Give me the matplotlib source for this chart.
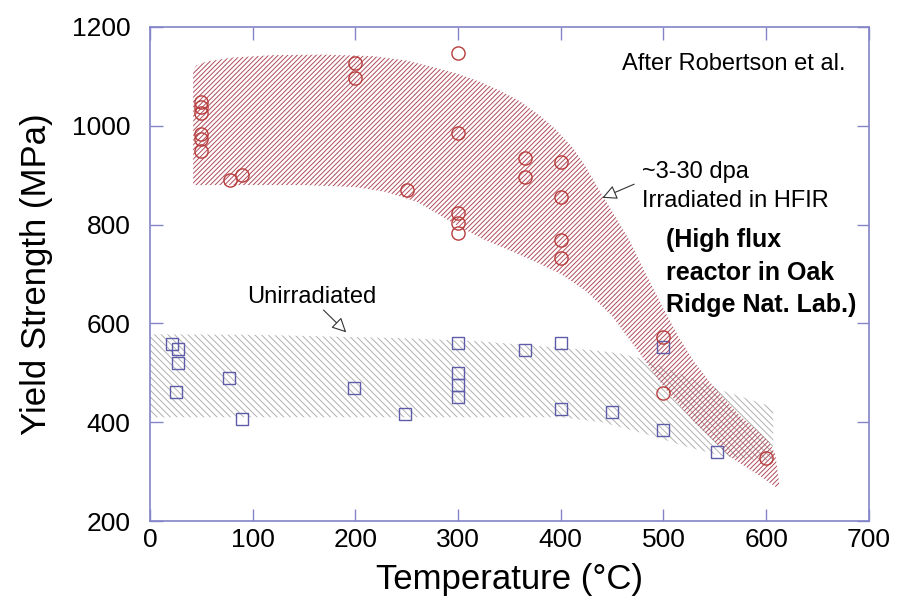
"""
Yield strength vs temperature, irradiated vs unirradiated
"""

import matplotlib
matplotlib.use("Agg")
import matplotlib.pyplot as plt

# irradiated points (HFIR, ~3-30 dpa)
irrTemp = [50, 50, 50, 50, 50, 50, 78, 90, 200, 200, 250, 300, 300, 300, 300, 300,
           365, 365, 400, 400, 400, 400, 500, 500, 600]
irrYield = [1048, 1038, 1026, 983, 973, 948, 890, 900, 1127, 1097, 871, 1147, 985, 823, 804, 784,
            934, 896, 926, 855, 768, 733, 572, 459, 327]

# unirradiated points
unTemp = [21, 27, 27, 25, 77, 90, 199, 248, 300, 300, 300, 300, 365, 400, 400, 450, 500, 500, 552]
unYield = [559, 549, 520, 462, 490, 407, 470, 417, 561, 500, 476, 452, 547, 561, 427, 420, 552, 384, 340]

# scatter bands (upper and lower edges)
irrTopT = [42, 45, 55, 80, 120, 170, 217, 250, 282, 300, 320, 340, 360, 380, 395, 412, 425,
           438, 452, 467, 483, 500, 515, 530, 545, 560, 575, 591, 603, 609, 613]
irrTopY = [1112, 1122, 1130, 1138, 1143, 1144, 1141, 1132, 1115, 1105, 1090, 1072, 1050, 1020, 993, 955, 915,
           868, 820, 768, 700, 630, 572, 522, 482, 446, 412, 384, 360, 335, 273]
irrBotT = [42, 150, 200, 230, 260, 280, 300, 325, 350, 375, 400, 425, 450, 475, 500, 530, 565, 595, 610]
irrBotY = [880, 880, 876, 866, 846, 822, 797, 770, 748, 725, 700, 665, 615, 545, 472, 400, 330, 290, 268]

unTopT = [0, 100, 250, 320, 380, 430, 455, 480, 520, 560, 590, 607]
unTopY = [578, 577, 570, 564, 554, 546, 540, 528, 495, 462, 442, 430]
unBotT = [0, 400, 440, 480, 520, 560, 607]
unBotY = [410, 410, 400, 378, 352, 330, 320]

xTicks = [0, 100, 200, 300, 400, 500, 600, 700]
yTicks = [200, 400, 600, 800, 1000, 1200]


def band(ax, topT, topY, botT, botY, hatch, color):
    """
    hatched region between two edges
    """
    xs = list(topT) + list(reversed(botT))
    ys = list(topY) + list(reversed(botY))
    ax.fill(xs, ys, facecolor='none', edgecolor=color, linewidth=0, hatch=hatch)


def main():
    plt.rcParams['font.family'] = ['Liberation Sans', 'DejaVu Sans']
    plt.rcParams['hatch.linewidth'] = 0.7
    axisColor = '#8484c8'

    fig = plt.figure(figsize=(9.04, 6.13), dpi=100)
    ax = fig.add_axes([0.166, 0.150, 0.795, 0.806])

    band(ax, unTopT, unTopY, unBotT, unBotY, '\\' * 5, '#b0b0b0')
    band(ax, irrTopT, irrTopY, irrBotT, irrBotY, '/' * 7, '#b04c5a')

    ax.plot(unTemp, unYield, 's', ms=9, mfc='none', mec='#5c5ca8', mew=1.0)
    ax.plot(irrTemp, irrYield, 'o', ms=9.5, mfc='none', mec='#b83c3c', mew=1.0)

    ax.set_xlim(0, 700)
    ax.set_ylim(200, 1200)
    ax.set_xticks(xTicks)
    ax.set_yticks(yTicks)
    ax.tick_params(direction='in', length=9, width=1, color=axisColor,
                   top=True, right=True, labelsize=19)
    ax.tick_params(axis='y', pad=14)
    ax.tick_params(axis='x', pad=5)
    for s in ax.spines.values():
        s.set_color(axisColor)
        s.set_linewidth(1.2)

    ax.set_xlabel('Temperature (°C)', fontsize=25, labelpad=8)
    ax.set_ylabel('Yield Strength (MPa)', fontsize=25, labelpad=14)

    ax.text(460, 1113, 'After Robertson et al.', fontsize=17, va='baseline')
    ax.text(479, 894, '~3-30 dpa', fontsize=17, va='baseline')
    ax.text(479, 836, 'Irradiated in HFIR', fontsize=17, va='baseline')

    bold = ['Liberation Sans Narrow', 'Liberation Sans', 'DejaVu Sans']
    for line, y in zip(['(High flux', 'reactor in Oak', 'Ridge Nat. Lab.)'], [755, 688, 623]):
        ax.text(503, y, line, fontsize=18, fontweight='bold', family=bold, va='baseline')

    arrow = dict(arrowstyle='-|>', fc='white', ec='#333333', lw=0.8, mutation_scale=22)
    ax.annotate('', xy=(438, 852), xytext=(474, 884), arrowprops=arrow)
    ax.annotate('', xy=(193, 578), xytext=(167, 631), arrowprops=arrow)
    ax.text(157, 653, 'Unirradiated', fontsize=17, ha='center', va='center')

    fig.savefig('out.png', dpi=100)


if __name__ == "__main__":
    main()
